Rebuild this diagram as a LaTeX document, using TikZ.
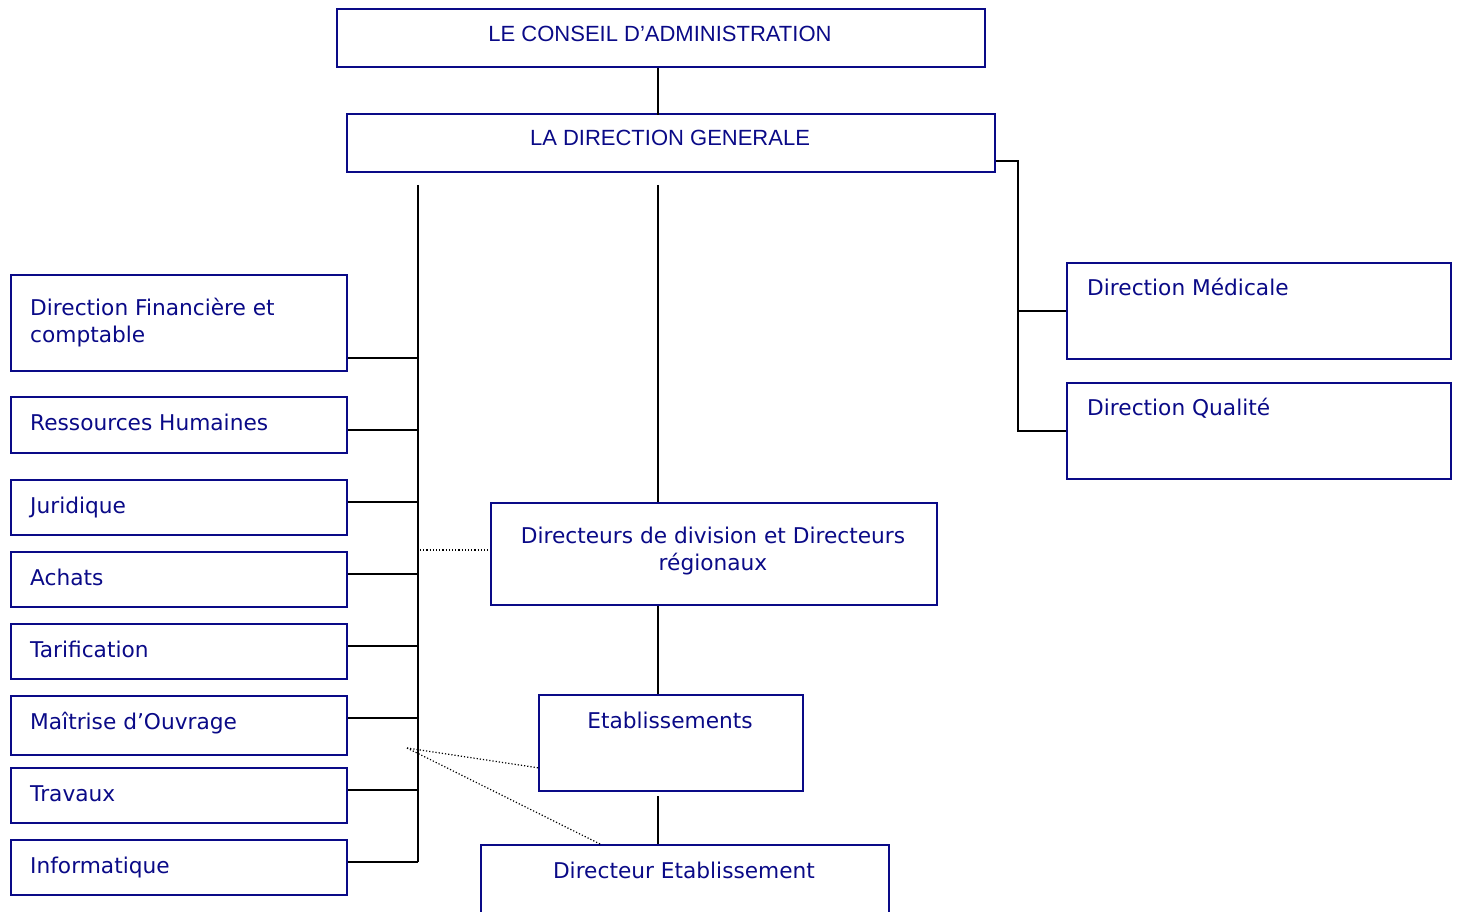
\documentclass[tikz,border=0pt]{standalone}
\usepackage{fontspec}
\setmainfont{DejaVu Sans}
\newfontfamily\headfont{Liberation Sans}
\usetikzlibrary{positioning,calc}
\usepackage{xcolor}
\definecolor{navy}{RGB}{10,10,135}

\begin{document}
\begin{tikzpicture}[x=1pt,y=-1pt,
    box/.style={draw=navy, line width=1.8pt, anchor=north west, inner sep=0pt},
    txt/.style={text=navy, inner sep=0pt, font=\fontsize{21.7}{27}\selectfont},
    head/.style={text=navy, inner sep=0pt, anchor=base, font=\headfont\fontsize{22}{26}\selectfont},
    link/.style={line width=1.8pt},
    dots/.style={dotted, line width=1.2pt}]

    \clip (0,0) rectangle (1458,912);

    % top of the chart
    \node[box, minimum width=648, minimum height=58] (conseil) at (336,8) {};
    \node[head] (conseiltxt) at (660,42) {LE CONSEIL D’ADMINISTRATION};
    \node[box, minimum width=648, minimum height=58] (dg) at (346,113) {};
    \node[head] (dgtxt) at (670,146) {LA DIRECTION GENERALE};
    \draw[link] (conseil.south -| 658,0) -- (658,115);

    % services on the left
    \node[box, minimum width=336, minimum height=96] (fin) at (10,274) {};
    \node[txt, anchor=base west, align=left] (fintxt) at (30,342) {Direction Financière et\\comptable};
    \foreach \nm/\ya/\hh/\lab in {rh/396/56/Ressources Humaines, jur/479/55/Juridique,
            ach/551/55/Achats, tar/623/55/Tarification, mai/695/59/Maîtrise d’Ouvrage,
            tra/767/55/Travaux, inf/839/55/Informatique} {
        \node[box, minimum width=336, minimum height=\hh] (\nm) at (10,\ya) {};
        \node[txt, anchor=base west] (\nm txt) at (30,\ya+34) {\lab};
    }
    \coordinate (spinetop) at (418,185);
    \coordinate (spinebot) at (418,862);
    \draw[link] (spinetop) -- (spinebot);
    \foreach \nm/\yb in {fin/358, rh/430, jur/502, ach/574, tar/646, mai/718, tra/790, inf/862}
        \draw[link] (spinetop |- 0,\yb) -- (\nm.east |- 0,\yb);

    % medical and quality on the right
    \node[box, minimum width=384, minimum height=96] (med) at (1066,262) {};
    \node[txt, anchor=base west] (medtxt) at (1087,295) {Direction Médicale};
    \node[box, minimum width=384, minimum height=96] (qual) at (1066,382) {};
    \node[txt, anchor=base west] (qualtxt) at (1087,415) {Direction Qualité};
    \coordinate (rjoin) at (1018,161);
    \draw[link] (rjoin -| dg.east) -- (rjoin) -- (rjoin |- qual.west) -- (qual.west);
    \draw[link] (rjoin |- med.west) -- (med.west);

    % operational line
    \node[box, minimum width=446, minimum height=102] (div) at (490,502) {};
    \node[txt, anchor=base, align=center] (divtxt) at (713,570) {Directeurs de division et Directeurs\\régionaux};
    \node[box, minimum width=264, minimum height=96] (etab) at (538,694) {};
    \node[txt, anchor=base] (etabtxt) at (670,728) {Etablissements};
    \node[box, minimum width=408, minimum height=100] (dire) at (480,844) {};
    \node[txt, anchor=base] (diretxt) at (684,878) {Directeur Etablissement};
    \coordinate (midtop) at (658,185);
    \draw[link] (midtop) -- (midtop |- div.north);
    \draw[link] (midtop |- div.south) -- (midtop |- etab.north);
    \draw[link] (midtop |- 0,796) -- (midtop |- dire.north);

    % dotted links
    \coordinate (dota) at (420,550);
    \coordinate (dotb) at (407,748);
    \draw[dots] (dota) -- (dota -| div.west);
    \draw[dots] (dotb) -- ($(etab.south west)+(0,-24)$);
    \draw[dots] (dotb) -- ($(dire.north west)+(120,0)$);
\end{tikzpicture}
\end{document}
